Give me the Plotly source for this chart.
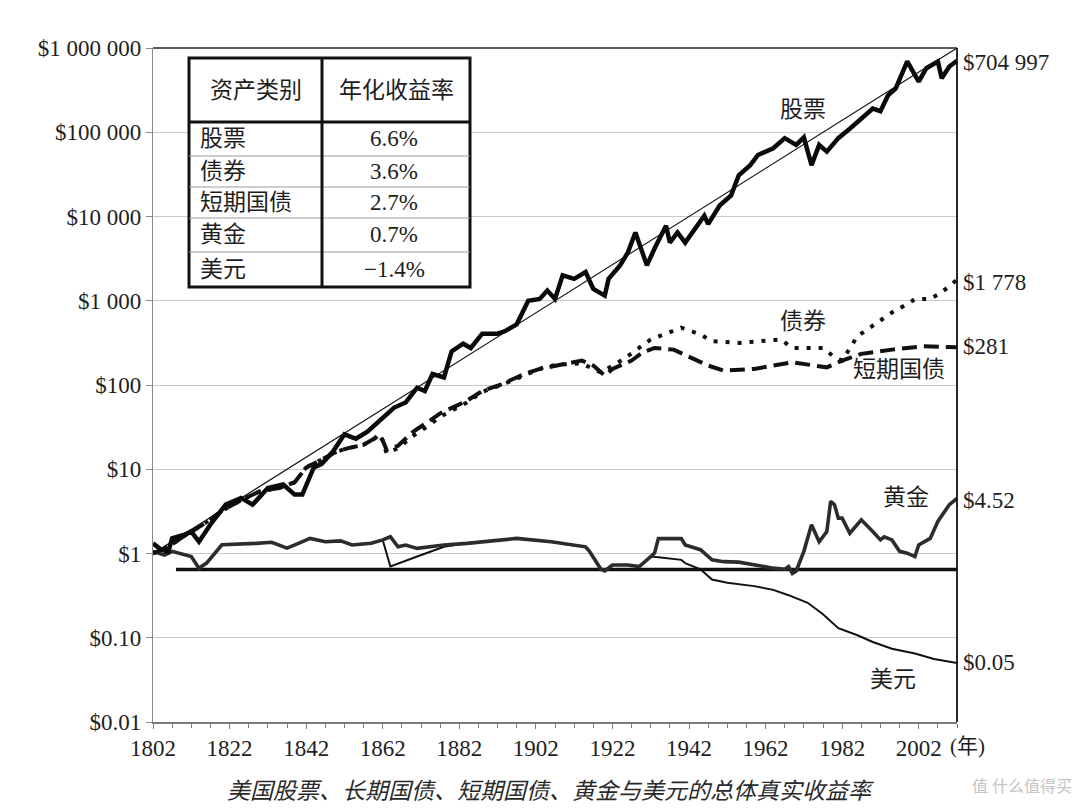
import plotly.graph_objects as go

# ---------------- data ----------------
stock_years = [1802, 1804, 1806, 1807, 1810, 1812, 1814, 1817, 1821, 1825, 1828, 1832, 1836, 1839, 1841,
               1844, 1846, 1849, 1852, 1855, 1858, 1862, 1865, 1868, 1871, 1873, 1875, 1878, 1880, 1883,
               1885, 1888, 1892, 1894, 1897, 1900, 1903, 1905, 1907, 1909, 1912, 1915, 1917, 1920, 1921,
               1924, 1926, 1928, 1931, 1933, 1936, 1937, 1939, 1941, 1946, 1947, 1950, 1953, 1955, 1958,
               1960, 1964, 1967, 1970, 1972, 1974, 1976, 1978, 1981, 1984, 1987, 1990, 1992, 1994, 1996,
               1999, 2002, 2004, 2007, 2008, 2010, 2012]
stock_values = [1.32, 1.12, 1.05, 1.51, 1.66, 1.82, 1.38, 2.21, 3.8, 4.57, 3.8, 6.0, 6.6, 5.0, 5.0,
                10.5, 11.5, 16.2, 26, 23, 28, 41, 54, 62, 93, 85, 135, 123, 251, 309,
                275, 407, 407, 437, 525, 1000, 1050, 1320, 1050, 2000, 1820, 2190, 1380, 1150, 1820,
                2630, 3720, 6460, 2630, 4170, 7760, 4900, 6460, 4900, 10200, 8130, 13500, 17800, 30900, 40700,
                53700, 64600, 85100, 70800, 87100, 40700, 70800, 58900, 85100, 110000, 145000, 191000, 178000, 275000, 331000,
                692000, 398000, 575000, 692000, 437000, 603000, 704997]

bond_years = [1802, 1806, 1810, 1815, 1820, 1825, 1830, 1835, 1839, 1842, 1846, 1850, 1853, 1857, 1860,
              1861, 1862, 1863, 1866, 1870, 1874, 1877, 1884, 1888, 1893, 1899, 1904, 1908, 1914, 1919,
              1925, 1932, 1940, 1945, 1948, 1955, 1966, 1969, 1977, 1980, 1982, 1986, 1990, 1995, 1999,
              2001, 2005, 2008, 2012]
bond_values = [1.0, 1.2, 1.6, 2.2, 3.2, 4.3, 5.5, 6.0, 7.0, 10.5, 13, 16.2, 17.8, 19.5, 23.4,
               26, 22, 15.5, 17.8, 25, 33, 42, 62, 83, 100, 132, 162, 175, 180, 141,
               204, 347, 479, 398, 331, 316, 347, 275, 275, 214, 195, 380, 501, 724, 912,
               1047, 1047, 1259, 1778]

bill_years = [1802, 1806, 1810, 1815, 1820, 1825, 1830, 1835, 1839, 1842, 1846, 1850, 1853, 1857, 1860,
              1861, 1862, 1863, 1866, 1870, 1874, 1877, 1884, 1888, 1893, 1899, 1903, 1908, 1914, 1917,
              1920, 1922, 1927, 1930, 1933, 1938, 1942, 1947, 1951, 1959, 1969, 1978, 1982, 1987, 1995,
              2003, 2012]
bill_values = [1.0, 1.2, 1.6, 2.2, 3.2, 4.3, 5.5, 6.0, 7.0, 10.5, 13, 16.2, 17.8, 19.5, 23.4,
               26, 22, 17, 19, 28, 37, 46, 65, 85, 102, 135, 155, 170, 195, 170,
               129, 155, 195, 245, 275, 263, 214, 170, 148, 155, 186, 162, 195, 234, 263,
               288, 281]

gold_years = [1802, 1805, 1807, 1812, 1814, 1816, 1820, 1825, 1829, 1833, 1837, 1840, 1843, 1847, 1851,
              1854, 1859, 1862, 1864, 1866, 1868, 1871, 1878, 1884, 1888, 1897, 1906, 1911, 1915, 1916,
              1919, 1920, 1922, 1926, 1929, 1932, 1933, 1934, 1940, 1941, 1945, 1948, 1951, 1955, 1959,
              1964, 1967, 1968, 1969, 1970, 1972, 1974, 1976, 1978, 1979, 1980, 1981, 1982, 1984, 1987,
              1990, 1992, 1993, 1995, 1997, 1999, 2001, 2002, 2005, 2007, 2010, 2012]
gold_values = [1.06, 0.96, 1.06, 0.92, 0.67, 0.77, 1.27, 1.29, 1.32, 1.36, 1.16, 1.32, 1.51, 1.38, 1.41,
               1.26, 1.32, 1.45, 1.58, 1.20, 1.26, 1.15, 1.26, 1.32, 1.38, 1.51, 1.38, 1.26, 1.20, 1.06,
               0.65, 0.62, 0.73, 0.73, 0.70, 0.92, 1.01, 1.50, 1.50, 1.26, 1.11, 0.84, 0.80, 0.79, 0.73,
               0.67, 0.65, 0.70, 0.58, 0.62, 1.06, 2.19, 1.38, 1.82, 4.17, 3.80, 2.63, 2.63, 1.74, 2.51,
               1.82, 1.45, 1.58, 1.45, 1.06, 1.01, 0.92, 1.26, 1.51, 2.40, 3.80, 4.52]

dollar_years = [1802, 1805, 1807, 1812, 1814, 1816, 1820, 1825, 1829, 1833, 1837, 1840, 1843, 1847, 1851,
                1854, 1859, 1862, 1864, 1871, 1878, 1884, 1888, 1897, 1906, 1911, 1915, 1916, 1919, 1920,
                1922, 1926, 1929, 1932, 1934, 1940, 1941, 1945, 1948, 1952, 1959, 1964, 1968, 1973, 1977,
                1981, 1986, 1990, 1995, 2001, 2006, 2012]
dollar_values = [1.06, 0.96, 1.06, 0.92, 0.67, 0.77, 1.27, 1.29, 1.32, 1.36, 1.16, 1.32, 1.51, 1.38, 1.41,
                 1.26, 1.32, 1.45, 0.70, 0.92, 1.20, 1.32, 1.38, 1.51, 1.38, 1.26, 1.20, 1.06, 0.65, 0.62,
                 0.73, 0.73, 0.70, 0.92, 0.90, 0.84, 0.77, 0.65, 0.49, 0.45, 0.41, 0.37, 0.32, 0.26, 0.19,
                 0.13, 0.107, 0.089, 0.074, 0.065, 0.056, 0.05]

trend_years = [1802, 2012]
trend_values = [1.0, 1000000]

base_years = [1808, 2012]
base_values = [0.645, 0.645]

y_tickvals = [0.01, 0.1, 1, 10, 100, 1000, 10000, 100000, 1000000]
y_ticktext = ["$0.01", "$0.10", "$1", "$10", "$100", "$1 000", "$10 000", "$100 000", "$1 000 000"]
x_tickvals = [1802, 1822, 1842, 1862, 1882, 1902, 1922, 1942, 1962, 1982, 2002]

table_header = ["资产类别", "年化收益率"]
table_assets = ["股票", "债券", "短期国债", "黄金", "美元"]
table_returns = ["6.6%", "3.6%", "2.7%", "0.7%", "\u22121.4%"]

series_labels = ["股票", "债券", "短期国债", "黄金", "美元"]
end_labels = ["$704 997", "$1 778", "$281", "$4.52", "$0.05"]
caption = "美国股票、长期国债、短期国债、黄金与美元的总体真实收益率"

# ---------------- layout helpers ----------------
W, H = 1080, 808
L, R, T, B = 153, 957, 48, 722
SERIF = "Liberation Serif, Noto Sans CJK SC, serif"
INK = "#1e1e1e"


def px(x):
    return (x - L) / (R - L)


def py(y):
    return 1 - (y - T) / (B - T)


fig = go.Figure()

fig.add_trace(go.Scatter(x=trend_years, y=trend_values, mode="lines",
                         line=dict(color="#111", width=1.1), hoverinfo="skip"))
fig.add_trace(go.Scatter(x=base_years, y=base_values, mode="lines",
                         line=dict(color="#111", width=3.5), hoverinfo="skip"))
fig.add_trace(go.Scatter(x=dollar_years, y=dollar_values, mode="lines", name="美元",
                         line=dict(color="#111", width=2)))
fig.add_trace(go.Scatter(x=gold_years, y=gold_values, mode="lines", name="黄金",
                         line=dict(color="#2c2c2c", width=3.6)))
fig.add_trace(go.Scatter(x=bill_years, y=bill_values, mode="lines", name="短期国债",
                         line=dict(color="#111", width=4, dash="15px,7px")))
fig.add_trace(go.Scatter(x=bond_years, y=bond_values, mode="lines", name="债券",
                         line=dict(color="#111", width=4, dash="4px,8px")))
fig.add_trace(go.Scatter(x=stock_years, y=stock_values, mode="lines", name="股票",
                         line=dict(color="#0a0a0a", width=4.5)))

shapes = []
shapes.append(dict(type="line", xref="paper", yref="paper", x0=0, x1=1, y0=1, y1=1,
                   line=dict(color="#222", width=1.5)))
shapes.append(dict(type="line", xref="paper", yref="paper", x0=1, x1=1, y0=0, y1=1,
                   line=dict(color="#111", width=1.8)))

# table
tx0, tx1, tcol = 189, 470, 322
ty0, thead, ty1 = 58, 122, 287
row_lines = [156, 187, 218, 252]
shapes.append(dict(type="rect", xref="paper", yref="paper", layer="above",
                   x0=px(tx0), x1=px(tx1), y0=py(ty1), y1=py(ty0),
                   fillcolor="white", line=dict(color="#111", width=3)))
for ry in row_lines:
    shapes.append(dict(type="line", xref="paper", yref="paper", layer="above",
                       x0=px(tx0), x1=px(tx1), y0=py(ry), y1=py(ry),
                       line=dict(color="#9a9a9a", width=1)))
shapes.append(dict(type="line", xref="paper", yref="paper", layer="above",
                   x0=px(tx0), x1=px(tx1), y0=py(thead), y1=py(thead),
                   line=dict(color="#111", width=3)))
shapes.append(dict(type="line", xref="paper", yref="paper", layer="above",
                   x0=px(tcol), x1=px(tcol), y0=py(ty1), y1=py(ty0),
                   line=dict(color="#111", width=3)))

annotations = []
FS = 23


def txt(text, x, y, xanchor="center", size=FS, color=INK, **kw):
    annotations.append(dict(text=text, xref="paper", yref="paper", x=px(x), y=py(y),
                            xanchor=xanchor, yanchor="middle", showarrow=False,
                            font=dict(family=SERIF, size=size, color=color, **kw)))


txt(table_header[0], (tx0 + tcol) / 2, 90)
txt(table_header[1], (tcol + tx1) / 2, 90)
row_centers = [139, 171.5, 202.5, 235, 269.5]
for name, ret, yc in zip(table_assets, table_returns, row_centers):
    txt(name, 198, yc, xanchor="left")
    txt(ret, 394, yc)

label_pos = [(803, 110), (803, 322), (899, 370), (906, 497), (893, 679)]
for lab, (lx, ly) in zip(series_labels, label_pos):
    txt(lab, lx, ly)

end_y = [62, 282, 346, 501, 662]
for lab, ey in zip(end_labels, end_y):
    txt(lab, 961, ey, xanchor="left")

txt("(年)", 948, 746, xanchor="left", size=21)

txt(caption, 550, 791, size=23, color="#2a2a2a", style="italic")

txt("值 什么值得买", 1074, 786, xanchor="right", size=16, color="#c4c4c4")

fig.update_layout(
    width=W, height=H,
    margin=dict(l=L, r=W - R, t=T, b=H - B),
    paper_bgcolor="white", plot_bgcolor="white",
    showlegend=False,
    shapes=shapes, annotations=annotations,
    font=dict(family=SERIF, color=INK),
)

fig.update_xaxes(
    range=[1802, 2012], tickvals=x_tickvals, ticktext=[str(v) for v in x_tickvals],
    showgrid=False, zeroline=False,
    showline=True, linecolor="#7a7a7a", linewidth=1.5,
    ticks="outside", ticklen=5, tickcolor="#7a7a7a", tickwidth=1,
    minor=dict(dtick=5, tick0=1802, ticks="outside", ticklen=4, tickcolor="#7a7a7a", showgrid=False),
    tickfont=dict(family=SERIF, size=23, color=INK),
)
fig.update_yaxes(
    type="log", range=[-2, 6], tickvals=y_tickvals, ticktext=y_ticktext,
    showgrid=True, gridcolor="#c9c9c9", gridwidth=1, zeroline=False,
    showline=True, linecolor="#8a8a8a", linewidth=1.2,
    ticks="outside", ticklen=6, tickcolor="#8a8a8a",
    tickfont=dict(family=SERIF, size=23, color=INK),
)

fig.write_html("out.html", config={"displayModeBar": False},
               post_script="document.body.style.margin='0';document.body.style.overflow='hidden';")
